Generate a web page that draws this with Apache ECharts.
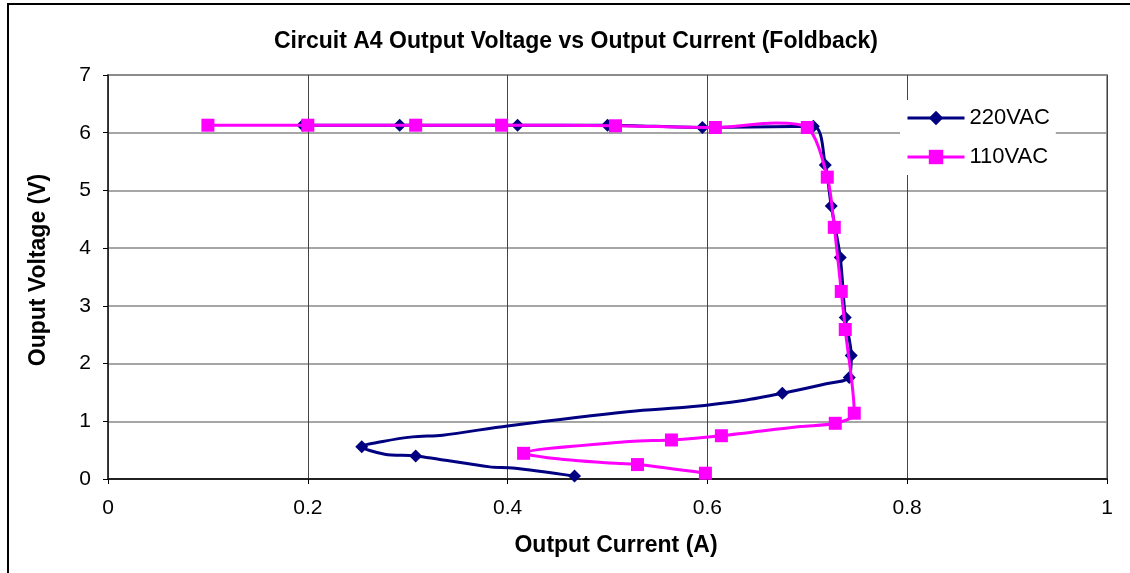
<!DOCTYPE html>
<html>
<head>
<meta charset="utf-8">
<title>Circuit A4 Output Voltage vs Output Current (Foldback)</title>
<script src="https://cdn.jsdelivr.net/npm/echarts@6/dist/echarts.min.js"></script>
<style>
  html, body { margin: 0; padding: 0; background: #fff; }
  #wrap { position: relative; width: 1130px; height: 573px; overflow: hidden; }
  #main { width: 1130px; height: 573px; }
  /* chart area frame, cut off on the right and bottom like the original */
  #frame {
    position: absolute; left: 7px; top: 3px; width: 1200px; height: 700px;
    border-left: 2px solid #000; border-top: 2px solid #000; pointer-events: none;
  }
</style>
</head>
<body>
<div id="wrap">
  <div id="main"></div>
  <div id="frame"></div>
</div>
<script>
// axis ticks
const xTicks = [0, 0.2, 0.4, 0.6, 0.8, 1]
const yTicks = [0, 1, 2, 3, 4, 5, 6, 7]

// 220VAC (1 = point drawn with a marker)
const current220 = [0.195, 0.292, 0.41, 0.50, 0.595, 0.706, 0.718, 0.724, 0.733, 0.738, 0.744, 0.742, 0.719, 0.675, 0.636, 0.583, 0.5225, 0.40, 0.335, 0.305, 0.275, 0.254, 0.277, 0.308, 0.382, 0.405, 0.467]
const voltage220 = [6.13, 6.13, 6.13, 6.13, 6.09, 6.11, 5.44, 4.73, 3.84, 2.80, 2.14, 1.76, 1.65, 1.485, 1.36, 1.25, 1.17, 0.92, 0.76, 0.73, 0.65, 0.56, 0.43, 0.40, 0.21, 0.19, 0.05]
const marked220  = [1, 1, 1, 1, 1, 1, 1, 1, 1, 1, 1, 1, 0, 1, 0, 0, 0, 0, 0, 0, 0, 1, 0, 1, 0, 0, 1]

// 110VAC
const current110 = [0.10, 0.20, 0.308, 0.394, 0.508, 0.608, 0.668, 0.70, 0.72, 0.727, 0.734, 0.738, 0.747, 0.728, 0.693, 0.614, 0.564, 0.522, 0.416, 0.44, 0.499, 0.53, 0.598]
const voltage110 = [6.13, 6.13, 6.13, 6.13, 6.12, 6.09, 6.17, 6.09, 5.23, 4.36, 3.25, 2.59, 1.14, 0.965, 0.91, 0.75, 0.676, 0.65, 0.445, 0.37, 0.28, 0.25, 0.10]
const marked110  = [1, 1, 1, 1, 1, 1, 0, 1, 1, 1, 1, 1, 1, 1, 0, 1, 1, 0, 1, 0, 0, 1, 1]

// unmarked points only shape the curve
const toPoints = (xs, ys, marks) =>
  xs.map((x, i) => marks[i] ? [x, ys[i]] : { value: [x, ys[i]], symbol: 'none' })

const font = '"Liberation Sans", Arial, sans-serif'

const chart = echarts.init(document.getElementById('main'), null, { renderer: 'canvas' })

const option = {
  animation: false,
  backgroundColor: '#fff',
  title: {
    text: 'Circuit A4 Output Voltage vs Output Current (Foldback)',
    left: 571,
    top: 25,
    textAlign: 'center',
    textStyle: { fontFamily: font, fontSize: 23, fontWeight: 'bold', color: '#000' }
  },
  legend: {
    orient: 'vertical',
    left: 900,
    top: 100,
    padding: 6,
    itemWidth: 57,
    itemHeight: 18,
    itemGap: 15,
    backgroundColor: '#fff',
    lineStyle: { width: 3 },
    textStyle: { fontFamily: font, fontSize: 22, lineHeight: 24, color: '#000' },
    data: ['220VAC', '110VAC']
  },
  grid: {
    left: 108,
    right: 23,
    top: 75,
    bottom: 94,
    show: true,
    borderColor: '#999',
    borderWidth: 2
  },
  xAxis: {
    type: 'value',
    min: xTicks[0],
    max: xTicks[xTicks.length - 1],
    interval: xTicks[1] - xTicks[0],
    name: 'Output Current (A)',
    nameLocation: 'middle',
    nameGap: 55,
    nameTextStyle: { fontFamily: font, fontSize: 23, fontWeight: 'bold', color: '#000', padding: [0, 0, 0, 17] },
    axisLine: { lineStyle: { color: '#222', width: 2 } },
    axisTick: { show: true, inside: false, length: 5, lineStyle: { color: '#000' } },
    axisLabel: { margin: 19, fontFamily: font, fontSize: 21, color: '#000' },
    splitLine: { show: true, lineStyle: { color: '#444', width: 1 } }
  },
  yAxis: {
    type: 'value',
    min: yTicks[0],
    max: yTicks[yTicks.length - 1],
    interval: yTicks[1] - yTicks[0],
    name: 'Ouput Voltage (V)',
    nameLocation: 'middle',
    nameGap: 58,
    nameTextStyle: { fontFamily: font, fontSize: 23, fontWeight: 'bold', color: '#000', padding: [0, 0, 0, 14] },
    axisLine: { show: true, lineStyle: { color: '#222', width: 1.5 } },
    axisTick: { show: true, inside: false, length: 5, lineStyle: { color: '#000' } },
    axisLabel: { margin: 17, fontFamily: font, fontSize: 21, color: '#000' },
    splitLine: { show: true, lineStyle: { color: '#888', width: 1.5 } }
  },
  series: [
    {
      name: '220VAC',
      type: 'line',
      smooth: 0.3,
      symbol: 'diamond',
      symbolSize: 13,
      color: '#000080',
      lineStyle: { width: 3, color: '#000080' },
      itemStyle: { color: '#000080' },
      data: toPoints(current220, voltage220, marked220),
      z: 2
    },
    {
      name: '110VAC',
      type: 'line',
      smooth: 0.3,
      symbol: 'rect',
      symbolSize: 13,
      color: '#ff00ff',
      lineStyle: { width: 3, color: '#ff00ff' },
      itemStyle: { color: '#ff00ff' },
      data: toPoints(current110, voltage110, marked110),
      z: 3
    }
  ]
}

chart.setOption(option)
</script>
</body>
</html>
